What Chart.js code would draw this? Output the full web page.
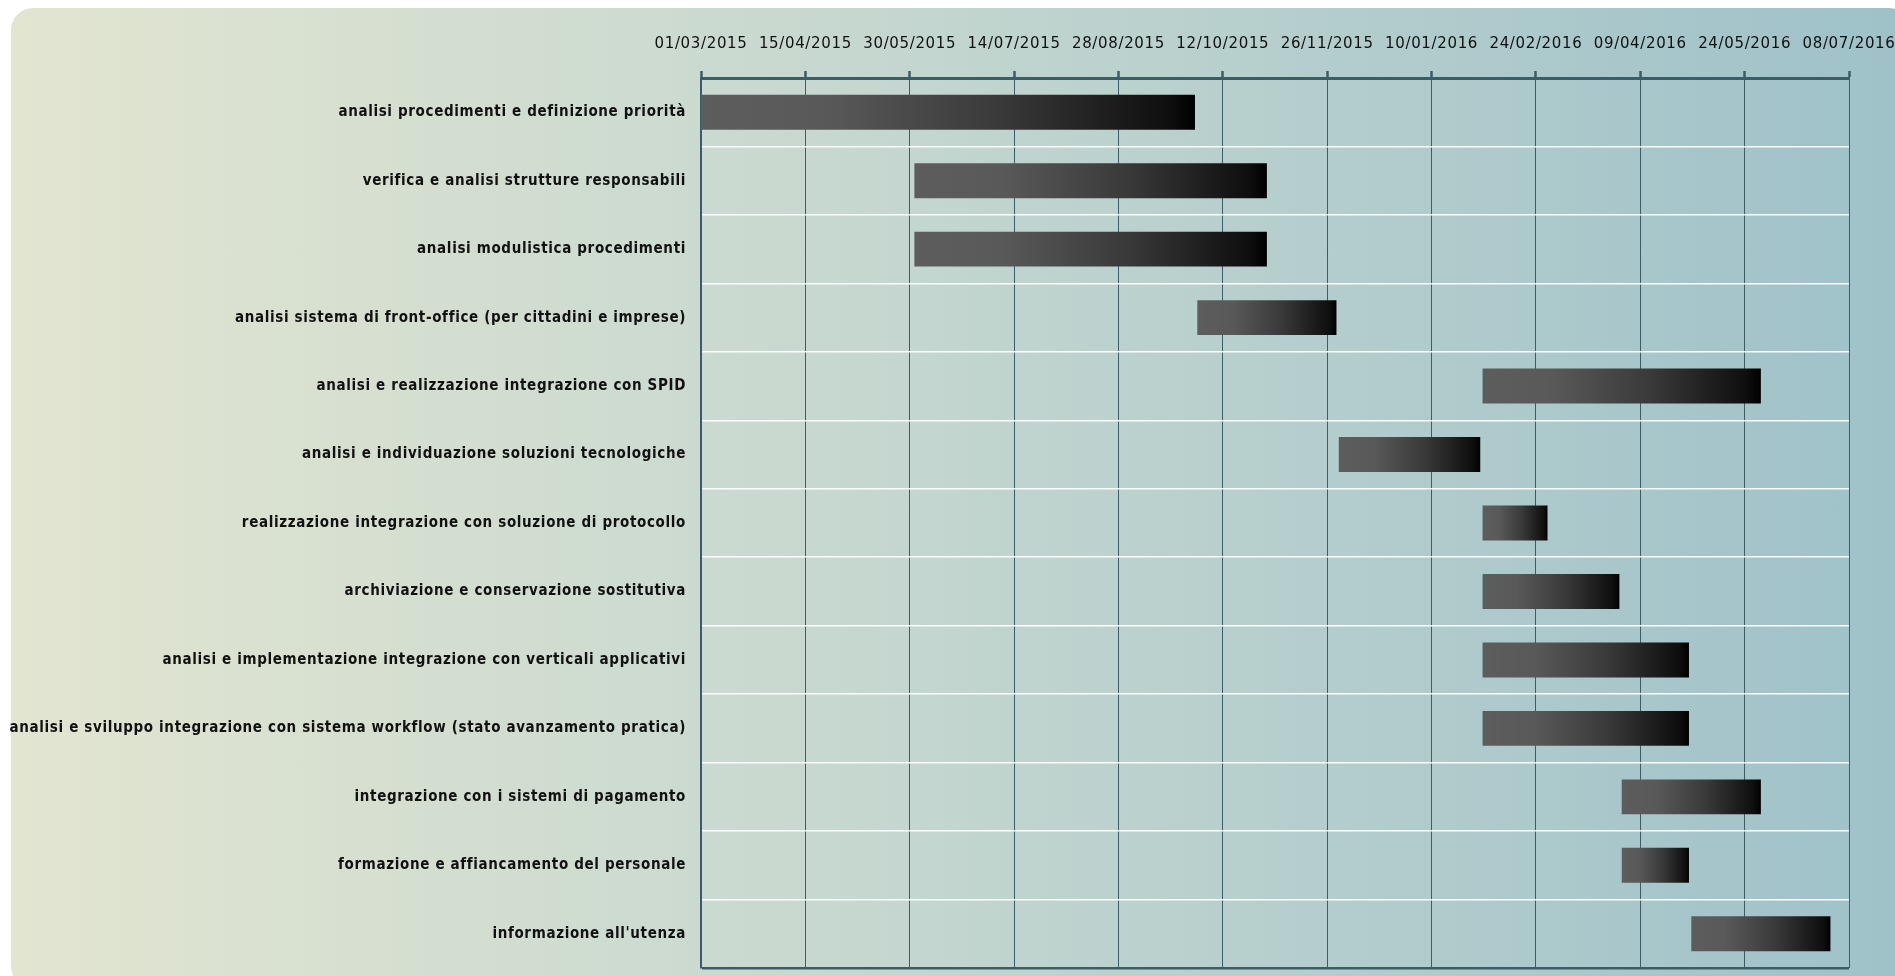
<!DOCTYPE html>
<html>
<head>
<meta charset="utf-8">
<script src="https://cdn.jsdelivr.net/npm/chart.js@4/dist/chart.umd.min.js"></script>
<style>
  html, body { margin: 0; padding: 0; background: #fff; overflow: hidden; }
  #bg {
    position: absolute; left: 11px; top: 8px; width: 1900px; height: 980px;
    border-radius: 22px;
    background: linear-gradient(to right, #e2e5d0 0%, #c9d9d0 40%, #9ec1c9 100%);
  }
  #box { position: absolute; left: 0; top: 0; width: 1895px; height: 976px; }
</style>
</head>
<body>
<div id="bg"></div>
<div id="box"><canvas id="gantt"></canvas></div>
<script>
const tasks = [
  "analisi procedimenti e definizione priorità",
  "verifica e analisi strutture responsabili",
  "analisi modulistica procedimenti",
  "analisi sistema di front-office (per cittadini e imprese)",
  "analisi e realizzazione integrazione con SPID",
  "analisi e individuazione soluzioni tecnologiche",
  "realizzazione integrazione con soluzione di protocollo",
  "archiviazione e conservazione sostitutiva",
  "analisi e implementazione integrazione con verticali applicativi",
  "analisi e sviluppo integrazione con sistema workflow (stato avanzamento pratica)",
  "integrazione con i sistemi di pagamento",
  "formazione e affiancamento del personale",
  "informazione all'utenza"
];
const startDates = [
  "01/03/2015", "01/06/2015", "01/06/2015", "01/10/2015", "01/02/2016", "01/12/2015", "01/02/2016",
  "01/02/2016", "01/02/2016", "01/02/2016", "01/04/2016", "01/04/2016", "01/05/2016"
];
const endDates = [
  "30/09/2015", "31/10/2015", "31/10/2015", "30/11/2015", "31/05/2016", "31/01/2016", "29/02/2016",
  "31/03/2016", "30/04/2016", "30/04/2016", "31/05/2016", "30/04/2016", "30/06/2016"
];
const axisFirst = "01/03/2015";
const axisLast = "08/07/2016";
const stepDays = 45;

// date string -> day number (UTC)
function toDay(s) {
  const p = s.split("/");
  return Date.UTC(+p[2], +p[1] - 1, +p[0]) / 86400000;
}
function fmt(day) {
  const d = new Date(day * 86400000);
  const dd = String(d.getUTCDate()).padStart(2, "0");
  const mm = String(d.getUTCMonth() + 1).padStart(2, "0");
  return dd + "/" + mm + "/" + d.getUTCFullYear();
}

const spans = startDates.map((s, i) => [toDay(s), toDay(endDates[i])]);
const dark = "#3d5d66";

Chart.defaults.font.family = "'DejaVu Sans', sans-serif";
Chart.defaults.color = "#111";

const spacing = {
  id: "spacing",
  beforeUpdate(chart) { chart.ctx.letterSpacing = "0.65px"; },
  beforeDraw(chart) { chart.ctx.letterSpacing = "0.65px"; }
};

const ctx = document.getElementById("gantt").getContext("2d");
const chart = new Chart(ctx, {
  type: "bar",
  data: {
    labels: tasks,
    datasets: [{
      data: spans,
      backgroundColor: (c) => {
        const ch = c.chart;
        if (c.type !== "data" || !ch.scales.x || !Array.isArray(c.raw)) return "#333";
        const x0 = ch.scales.x.getPixelForValue(c.raw[0]);
        const x1 = ch.scales.x.getPixelForValue(c.raw[1]);
        if (!isFinite(x0) || !isFinite(x1) || x1 <= x0) return "#333";
        const g = ch.ctx.createLinearGradient(x0, 0, x1, 0);
        g.addColorStop(0, "#5d5d5d");
        g.addColorStop(0.25, "#595959");
        g.addColorStop(0.6, "#3a3a3a");
        g.addColorStop(0.95, "#0e0e0e");
        g.addColorStop(1, "#000");
        return g;
      },
      borderWidth: 0,
      borderSkipped: false,
      barPercentage: 0.51,
      categoryPercentage: 1
    }]
  },
  options: {
    indexAxis: "y",
    responsive: true,
    maintainAspectRatio: false,
    animation: false,
    layout: { padding: { left: 0, right: 46, top: 0, bottom: 8 } },
    plugins: { legend: { display: false }, tooltip: { enabled: false } },
    scales: {
      x: {
        type: "linear",
        position: "top",
        min: toDay(axisFirst),
        max: toDay(axisLast),
        afterFit(scale) {
          scale.height = 78;
          scale.paddingLeft = 0;
          scale.paddingRight = 0;
        },
        ticks: {
          stepSize: stepDays,
          maxRotation: 0,
          autoSkip: false,
          padding: 18,
          font: { size: 15 },
          callback: (v) => fmt(v)
        },
        grid: { color: dark, lineWidth: 1, tickLength: 7, tickWidth: 2.5, tickColor: dark },
        border: { color: dark, width: 3 }
      },
      y: {
        afterFit(scale) {
          scale.width = 701;
          scale.paddingTop = 0;
          scale.paddingBottom = 0;
        },
        ticks: { padding: 15, font: { family: "'DejaVu Sans Condensed', 'DejaVu Sans', sans-serif", size: 15, weight: "bold" } },
        grid: {
          offset: true,
          drawTicks: false,
          // the closing line under the last row has no tick of its own
          color: (c) => (c.type === "tick" ? "rgba(255,255,255,0.95)" : dark),
          lineWidth: (c) => (c.type === "tick" ? 1.5 : 2.5)
        },
        border: { color: dark, width: 2 }
      }
    }
  },
  plugins: [spacing]
});
chart.update();
</script>
</body>
</html>
